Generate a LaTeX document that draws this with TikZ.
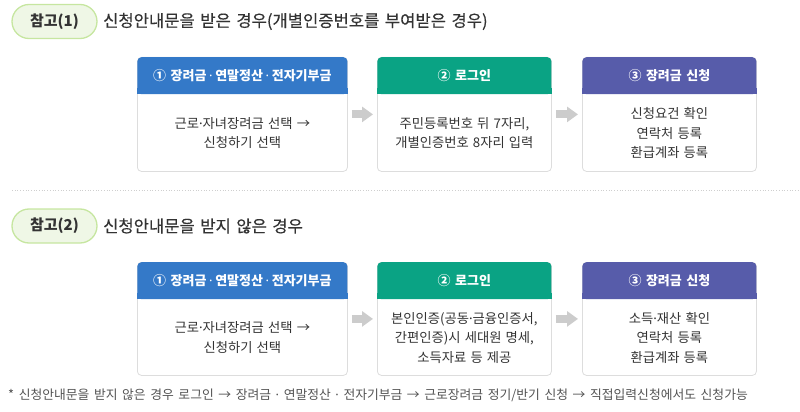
\documentclass[tikz,border=0pt]{standalone}
\usepackage{fontspec}
\setmainfont{Noto Sans CJK KR}
\newfontfamily\titlef[FakeBold=0.35]{Noto Sans CJK KR}
\newfontfamily\dotf{Noto Sans}
\newcommand{\md}{{\dotf ·}}
\newcommand{\hmd}{\hspace{2.6pt}{\dotf ·}\hspace{2.6pt}}
\newcommand{\wsTitle}{\spaceskip 5.5pt\relax}
\newcommand{\wsHdr}{\spaceskip 4.5pt\relax}
\newcommand{\wsBody}{\spaceskip 4.2pt\relax}
\newcommand{\wsFoot}{\spaceskip 4.6pt\relax}
\usetikzlibrary{arrows.meta,calc}
\definecolor{hblue}{HTML}{3479C8}
\definecolor{hgreen}{HTML}{0AA384}
\definecolor{hpurple}{HTML}{575CAA}
\definecolor{pillfill}{HTML}{EFF7E6}
\definecolor{pilldraw}{HTML}{C6E6A0}
\definecolor{txt}{HTML}{333333}
\definecolor{boxline}{HTML}{DDDDDD}
\definecolor{arrowgray}{HTML}{CCCCCC}
\tikzset{
  pill/.style={draw=pilldraw, line width=1.3pt, fill=pillfill, rounded corners=17pt,
    minimum width=85pt, minimum height=34pt, inner sep=0pt, text=txt,
    font=\fontsize{15}{17}\selectfont\bfseries},
  title/.style={anchor=west, text=txt, inner sep=0pt,
    font=\fontsize{16.6}{19}\selectfont\titlef\wsTitle},
  outerbox/.style={draw=boxline, line width=0.8pt, fill=white, rounded corners=4pt,
    anchor=north west, inner sep=0pt},
  hdr/.style={rounded corners=4pt, anchor=north, inner sep=0pt, minimum height=37pt,
    text=white, font=\fontsize{13}{15}\selectfont\bfseries\wsHdr},
  bodytxt/.style={align=center, text=txt, inner sep=0pt,
    font=\fontsize{13.3}{19.5}\selectfont\wsBody},
  foot/.style={anchor=west, inner sep=0pt, text=txt!85!white,
    font=\fontsize{12.8}{14}\selectfont\wsFoot},
  flow/.style={arrowgray, line width=8pt, -{Triangle[width=15pt,length=11pt]},
    shorten <=4pt, shorten >=4pt}
}
\newcommand{\mkbox}[8]{%
  \node[outerbox, minimum width=#4pt, minimum height=#5pt] (#1) at (#2,#3) {};
  \node[hdr, fill=#6, minimum width=#4pt] (#1h) at (#1.north) {#7};
  \fill[#6] ([yshift=6pt]#1h.south west) rectangle (#1h.south east);
  \node[bodytxt] (#1b) at ($(#1h.south)!0.5!(#1.south)$) {#8};
}
\begin{document}
\begin{tikzpicture}[x=1pt,y=-1pt]
\useasboundingbox (0,0) rectangle (800,412);

% section 1
\node[pill] (p1) at (54.5,21.5) {참고(1)};
\node[title] (t1) at (103,21.5) {신청안내문을 받은 경우(개별인증번호를 부여받은 경우)};

\mkbox{a1}{137}{57}{210}{114}{hblue}{① 장려금\hmd 연말정산\hmd 전자기부금}{근로\md 자녀장려금 선택 →\\신청하기 선택}
\mkbox{a2}{377}{57}{174}{114}{hgreen}{② 로그인}{주민등록번호 뒤 7자리,\\개별인증번호 8자리 입력}
\mkbox{a3}{582}{57}{174}{114}{hpurple}{③ 장려금 신청}{신청요건 확인\\연락처 등록\\환급계좌 등록}
\draw[flow] (a1.east) -- (a2.west);
\draw[flow] (a2.east) -- (a3.west);

% separator
\coordinate (s1) at (12,190);
\coordinate (s2) at (800,190);
\draw[boxline!85!gray, line width=0.7pt, dotted] (s1) -- (s2);

% section 2
\node[pill] (p2) at (54.5,226) {참고(2)};
\node[title] (t2) at (103,226) {신청안내문을 받지 않은 경우};

\mkbox{c1}{137}{262}{210}{113}{hblue}{① 장려금\hmd 연말정산\hmd 전자기부금}{근로\md 자녀장려금 선택 →\\신청하기 선택}
\mkbox{c2}{377}{262}{174}{113}{hgreen}{② 로그인}{본인인증(공동\md 금융인증서,\\간편인증)시 세대원 명세,\\소득자료 등 제공}
\mkbox{c3}{582}{262}{174}{113}{hpurple}{③ 장려금 신청}{소득\md 재산 확인\\연락처 등록\\환급계좌 등록}
\draw[flow] (c1.east) -- (c2.west);
\draw[flow] (c2.east) -- (c3.west);

% footnote
\node[foot] (fn) at (8,395)
  {* 신청안내문을 받지 않은 경우 로그인 → 장려금 \md\ 연말정산 \md\ 전자기부금 → 근로장려금 정기/반기 신청 → 직접입력신청에서도 신청가능};
\end{tikzpicture}
\end{document}
